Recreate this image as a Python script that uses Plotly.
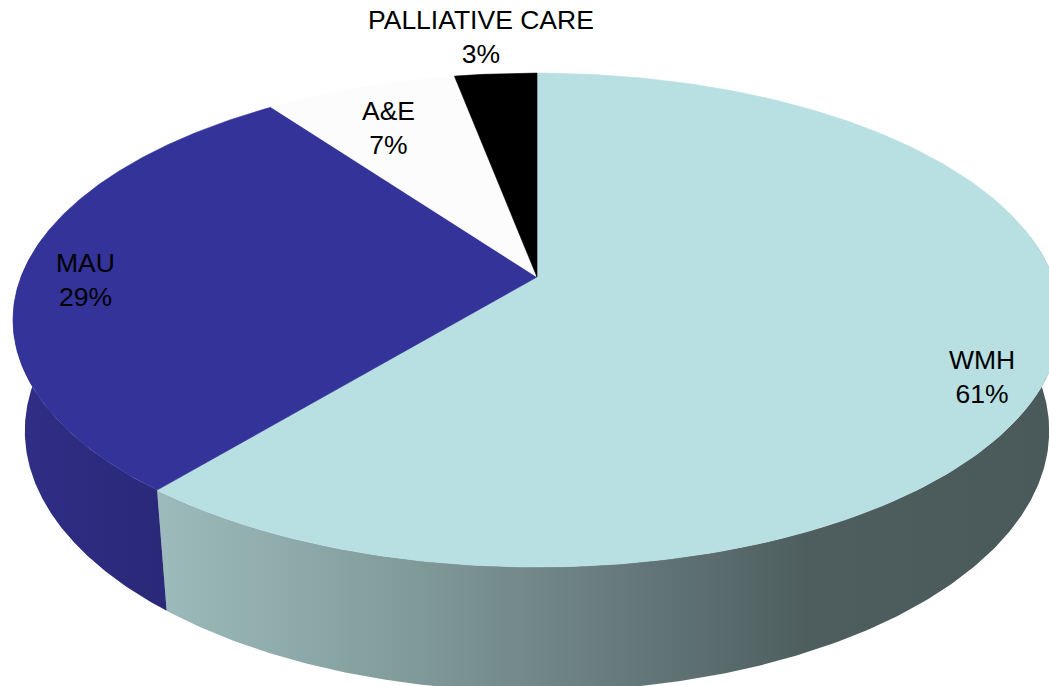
import numpy as np
import plotly.graph_objects as go

# Slice data (clockwise from 12 o'clock)
labels = ["WMH", "MAU", "A&E", "PALLIATIVE CARE"]
shares = [61, 29, 7, 3]

# Styling
top_colors = ["#B8DFE2", "#333399", "#FCFCFC", "#000000"]
side_scales = [
    [[0, "#9DBBBB"], [0.25, "#849E9E"], [0.5, "#687C7D"], [0.72, "#4E5E5F"], [1, "#4A5959"]],
    [[0, "#302E86"], [1, "#2A2878"]],
    [[0, "#E8E8E8"], [1, "#D0D0D0"]],
    [[0, "#111111"], [1, "#000000"]],
]
label_radius = [0.87, 0.88, 0.82, 1.15]
label_shift = [(0, -26), (0, -10), (0, -10), (-9, 11)]

# Camera / projection of the tilted disc
W, H = 1049, 686
CX, CY = 537, 277          # pie centre on screen
SCALE = 516                # pixels per unit radius
ELEV = np.radians(27.65)   # viewing elevation
DIST = 5.084               # camera distance (perspective)
THICK = 0.245              # disc thickness (unit radius)


def project(X, Y, Z):
    X, Y, Z = map(np.asarray, (X, Y, Z))
    depth = Y * np.cos(ELEV) + Z * np.sin(ELEV)
    f = DIST / (DIST - depth)
    up = Z * np.cos(ELEV) - Y * np.sin(ELEV)
    return CX + SCALE * X * f, CY - SCALE * up * f


def rim(a0, a1, z, r=1.0, n=240):
    t = np.radians(np.linspace(a0, a1, n))
    X = r * np.sin(t)
    Y = -r * np.cos(t)
    return project(X, Y, np.full_like(t, z))


cum = np.concatenate([[0], np.cumsum(shares)])
angles = 360.0 * cum / cum[-1]

fig = go.Figure()

# Outer side walls (front half only), drawn beneath the top faces
for i in range(len(shares)):
    a0, a1 = max(angles[i], 80.0), min(angles[i + 1], 280.0)
    if a1 <= a0:
        continue
    tx, ty = rim(a0, a1, 0.0)
    bx, by = rim(a0, a1, -THICK)
    xs = np.concatenate([tx, bx[::-1], tx[:1]])
    ys = np.concatenate([ty, by[::-1], ty[:1]])
    fig.add_trace(go.Scatter(
        x=xs, y=ys, mode="lines", fill="toself",
        line=dict(width=0, color=side_scales[i][-1][1]),
        fillgradient=dict(type="horizontal", colorscale=side_scales[i]),
        hoverinfo="skip", showlegend=False,
    ))

# Top faces
for i in range(len(shares)):
    tx, ty = rim(angles[i], angles[i + 1], 0.0)
    ox, oy = project(0.0, 0.0, 0.0)
    xs = np.concatenate([[ox], tx, [ox]])
    ys = np.concatenate([[oy], ty, [oy]])
    fig.add_trace(go.Scatter(
        x=xs, y=ys, mode="lines", fill="toself",
        fillcolor=top_colors[i], line=dict(width=0.6, color=top_colors[i]),
        hoverinfo="skip", showlegend=False,
    ))

# Data labels
for i, name in enumerate(labels):
    mid = np.radians((angles[i] + angles[i + 1]) / 2)
    r = label_radius[i]
    lx, ly = project(r * np.sin(mid), -r * np.cos(mid), 0.0)
    fig.add_annotation(
        x=float(lx), y=float(ly), text=f"{name}<br>{shares[i]}%",
        showarrow=False, xshift=label_shift[i][0], yshift=label_shift[i][1],
        font=dict(family="Liberation Sans, Arial, sans-serif", size=26.5, color="#000000"),
        align="center",
    )

fig.update_layout(
    width=W, height=H, autosize=False,
    margin=dict(l=0, r=0, t=0, b=0),
    paper_bgcolor="white", plot_bgcolor="white",
    xaxis=dict(range=[0, W], visible=False, fixedrange=True),
    yaxis=dict(range=[H, 0], visible=False, fixedrange=True),
)

fig.write_html("out.html")
